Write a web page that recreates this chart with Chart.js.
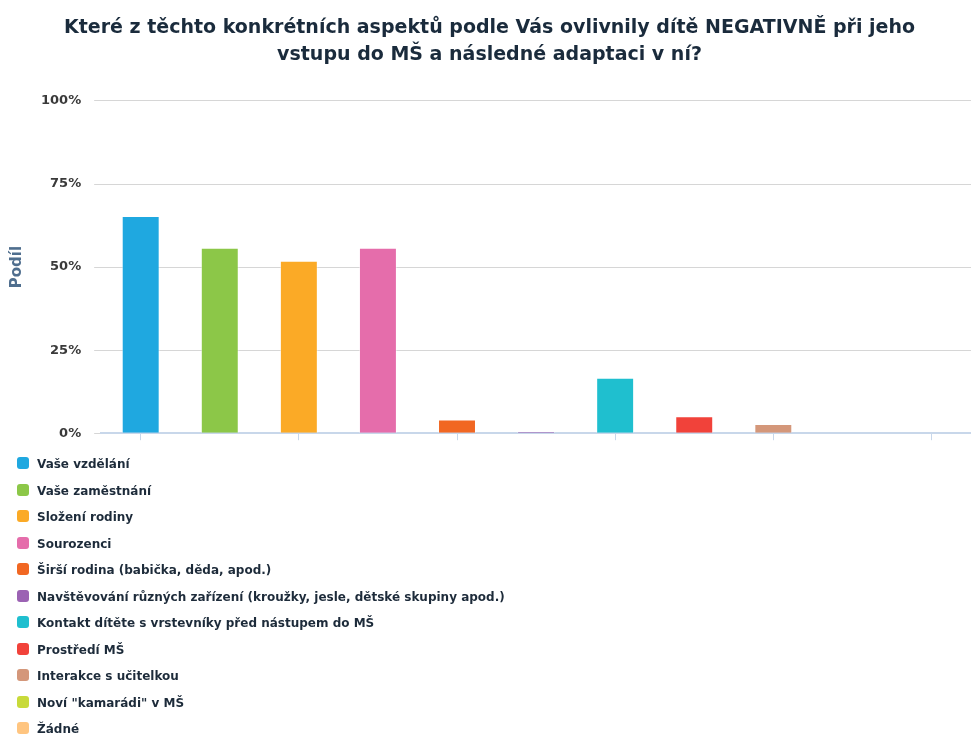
<!DOCTYPE html>
<html>
<head>
<meta charset="utf-8">
<script src="https://cdn.jsdelivr.net/npm/chart.js@4"></script>
<style>
  body { margin: 0; background: #fff; }
  #wrap { position: relative; width: 971px; height: 735px; }
  #box { position: absolute; left: 0; top: 0; width: 971px; height: 454px; }
  #legend { position: absolute; left: 17px; top: 452px; font: bold 12px "DejaVu Sans"; color: #1d2b3a; }
  #legend div { height: 26.5px; line-height: 24px; white-space: nowrap; }
  #legend span { display: inline-block; width: 12px; height: 12px; border-radius: 3px; margin-right: 8px; vertical-align: -1px; }
</style>
</head>
<body>
<div id="wrap">
  <div id="box"><canvas id="negativeChart"></canvas></div>
  <div id="legend"></div>
</div>
<script>
/***** NEGATIVE ASPECTS CHART : START *****/
var categories = [
    'Vaše vzdělání',
    'Vaše zaměstnání',
    'Složení rodiny',
    'Sourozenci',
    'Širší rodina (babička, děda, apod.)',
    'Navštěvování různých zařízení (kroužky, jesle, dětské skupiny apod.)',
    'Kontakt dítěte s vrstevníky před nástupem do MŠ',
    'Prostředí MŠ',
    'Interakce s učitelkou',
    'Noví "kamarádi" v MŠ',
    'Žádné'
];
var shares = [65.4, 55.8, 51.9, 55.8, 4.1, 0.6, 16.7, 5.1, 2.8, 0, 0];
var colors = ['#1fa8e0', '#8cc748', '#fbaa26', '#e56dab', '#f16722', '#9b62b3', '#1fbfcf', '#f1423a', '#d4977a', '#c8da3a', '#ffc580'];
var yTicks = [0, 25, 50, 75, 100];

var legend = document.getElementById('legend');
categories.forEach(function (name, i) {
    var row = document.createElement('div');
    var sw = document.createElement('span');
    sw.style.background = colors[i];
    row.appendChild(sw);
    row.appendChild(document.createTextNode(name));
    legend.appendChild(row);
});

var ctx = document.getElementById('negativeChart').getContext('2d');
var negativeChart = new Chart(ctx, {
    type: 'bar',
    data: {
        labels: categories,
        datasets: [{
            label: 'Podíl',
            data: shares,
            backgroundColor: colors,
            borderColor: 'rgba(255,255,255,0.45)',
            borderWidth: 1,
            barPercentage: 0.48,
            categoryPercentage: 1
        }]
    },
    options: {
        responsive: true,
        maintainAspectRatio: false,
        animation: false,
        layout: { padding: { left: 8, right: 0, top: 0, bottom: 5 } },
        plugins: {
            legend: { display: false },
            tooltip: { enabled: false },
            title: {
                display: true,
                text: ['Které z těchto konkrétních aspektů podle Vás ovlivnily dítě NEGATIVNĚ při jeho', 'vstupu do MŠ a následné adaptaci v ní?'],
                color: '#1a2b3c',
                font: { family: 'DejaVu Sans', size: 19, weight: 'bold', lineHeight: 1.42 },
                padding: { top: 15, bottom: 32 }
            }
        },
        scales: {
            x: {
                offset: true,
                ticks: { display: false },
                border: { color: '#c8d7ea', width: 2 },
                grid: {
                    offset: false,
                    drawOnChartArea: false,
                    tickLength: 7,
                    tickColor: function (c) { return c.index % 2 === 0 ? '#c8d7ea' : 'rgba(0,0,0,0)'; }
                }
            },
            y: {
                min: 0,
                max: 100,
                afterBuildTicks: function (axis) { axis.ticks = yTicks.map(function (v) { return { value: v }; }); },
                ticks: {
                    padding: 13,
                    color: '#3a3a3a',
                    font: { family: 'DejaVu Sans', size: 13, weight: 'bold' },
                    callback: function (v) { return v + '%'; }
                },
                border: { display: false },
                grid: { color: '#d6d6d6', tickColor: '#d6d6d6', tickLength: 7 },
                title: {
                    display: true,
                    text: 'Podíl',
                    color: '#4f6e8e',
                    font: { family: 'DejaVu Sans', size: 15, weight: 'bold' },
                    padding: { top: 0, bottom: 2 }
                }
            }
        }
    }
});
/***** NEGATIVE ASPECTS CHART : END *****/
</script>
</body>
</html>
